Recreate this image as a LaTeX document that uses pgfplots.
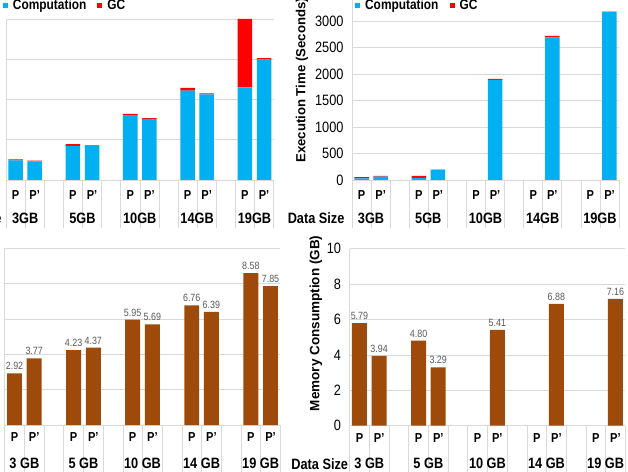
\documentclass[border=0pt]{standalone}
\usepackage{fontspec}
\setmainfont{Liberation Sans}[FakeStretch=0.85]
\newfontfamily\rotfont{Liberation Sans}
\usepackage{pgfplots}
\pgfplotsset{compat=1.18}
\usepackage{pgfplotstable}
\definecolor{compblue}{HTML}{00B0F0}
\definecolor{gcred}{HTML}{FF0000}
\definecolor{membrown}{HTML}{9E4A0B}
\definecolor{gridgray}{HTML}{D9D9D9}
\definecolor{lblgray}{HTML}{595959}

\pgfplotstableread{
x comp gc
0 49 2.5
1 46.5 1.5
3 85 4
4 85 1
6 160 4
7 152 2
9 222 7
10 213 2
12 230 170
13 300 2.5
}\tlData

\pgfplotstableread{
x comp gc
0 30 25
1 65 12
3 40 38
4 185 10
7 1890 20
10 2692 25
13 3165 12
}\trData

\pgfplotstableread{
x mem
0 2.92
1 3.77
3 4.23
4 4.37
6 5.95
7 5.69
9 6.76
10 6.39
12 8.58
13 7.85
}\blData

\pgfplotstableread{
x mem
0 5.79
1 3.94
3 4.80
4 3.29
7 5.41
10 6.88
13 7.16
}\brData

\pgfplotsset{
  sqlegend/.style={legend image code/.code={\fill[##1] (0pt,-2.5pt) rectangle (5pt,2.5pt);}},
  panel/.style n args={3}{
    scale only axis, anchor=south west,
    xmin=-0.5, xmax=13.5, ymin=0,
    axis x line*=bottom, axis y line*=left,
    axis line style={draw=gridgray,-, line width=0.6pt},
    ymajorgrids, grid style={draw=gridgray, line width=0.6pt},
    major tick length=0pt,
    xtick={0,1,3,4,6,7,9,10,12,13},
    xticklabels={P,P',P,P',P,P',P,P',P,P'},
    minor xtick={-0.5,0.5,...,13.5},
    minor tick length=#1, tick align=outside,
    every minor tick/.append style={draw=gridgray, line width=0.6pt},
    xticklabel style={font=\bfseries\fontsize{13}{13}\selectfont, anchor=center, yshift=-#2},
    yticklabel style={font=\fontsize{15}{15}\selectfont, xshift=-5pt},
    /pgf/number format/assume math mode=true,
    /pgf/number format/1000 sep={},
    extra x ticks={0.5,3.5,6.5,9.5,12.5},
    extra x tick style={grid=none, major tick length=0pt,
      xticklabel style={font=\bfseries\fontsize{15}{15}\selectfont, yshift=-#3}},
    clip=false,
    bar width=0.76,
  },
  toplegend/.style 2 args={
    legend style={draw=none, fill=none, at={(#1,#2)}, anchor=west,
      legend columns=2, font=\bfseries\fontsize{14}{14}\selectfont, inner sep=0pt,
      /tikz/every odd column/.append style={column sep=3pt},
      /tikz/every even column/.append style={column sep=9pt}},
  },
}

\begin{document}
\begin{tikzpicture}
\useasboundingbox (0,0) rectangle (628pt,471pt);
\clip (0,0) rectangle (628pt,471pt);

% ---------- top left ----------
\begin{axis}[panel={48pt}{15pt}{23pt},
  at={(6pt,291pt)}, width=267.6pt, height=161pt,
  ymax=400, ytick={0,100,...,400}, yticklabels={},
  ybar stacked,
  extra x tick labels={3GB,5GB,10GB,14GB,19GB},
  toplegend={-0.012}{1.085}]
\addplot[fill=compblue, draw=none, sqlegend] table[x=x,y=comp]{\tlData};
\addplot[fill=gcred, draw=none, sqlegend] table[x=x,y=gc]{\tlData};
\legend{Computation,GC}
\node[anchor=east, font=\bfseries\fontsize{15}{15}\selectfont] at (rel axis cs:0,0) [xshift=-1pt, yshift=-38pt] {Data Size};
\end{axis}

% ---------- top right ----------
\begin{axis}[panel={48pt}{15pt}{23pt},
  at={(352pt,291pt)}, width=267pt, height=185.5pt,
  ymax=3500, ytick={0,500,...,3000},
  ybar stacked,
  extra x tick labels={3GB,5GB,10GB,14GB,19GB},
  toplegend={0.011}{0.941}]
\addplot[fill=compblue, draw=none, sqlegend] table[x=x,y=comp]{\trData};
\addplot[fill=gcred, draw=none, sqlegend] table[x=x,y=gc]{\trData};
\legend{Computation,GC}
\node[anchor=east, font=\bfseries\fontsize{15}{15}\selectfont] at (rel axis cs:0,0) [xshift=-4pt, yshift=-38pt] {Data Size};
\node[rotate=90, font=\rotfont\bfseries\fontsize{13.2}{13.2}\selectfont] at (rel axis cs:-0.187,0.537) {Execution Time (Seconds)};
\end{axis}

% ---------- bottom left ----------
\begin{axis}[panel={50pt}{12pt}{26pt},
  at={(4.65pt,46pt)}, width=275.7pt, height=177pt,
  ymax=10, ytick={0,2,...,10}, yticklabels={},
  ybar,
  extra x tick labels={3 GB,5 GB,10 GB,14 GB,19 GB},
  nodes near coords,
  nodes near coords style={font=\fontsize{10.5}{10.5}\selectfont, text=lblgray,
    /pgf/number format/.cd, fixed, fixed zerofill, precision=2, assume math mode=true}]
\addplot[fill=membrown, draw=none] table[x=x,y=mem]{\blData};
\end{axis}

% ---------- bottom right ----------
\begin{axis}[panel={50pt}{12pt}{26pt},
  at={(349.6pt,45.3pt)}, width=275.7pt, height=177pt,
  ymax=10, ytick={0,2,...,10},
  ybar,
  extra x tick labels={3 GB,5 GB,10 GB,14 GB,19 GB},
  nodes near coords,
  nodes near coords style={font=\fontsize{10.5}{10.5}\selectfont, text=lblgray,
    /pgf/number format/.cd, fixed, fixed zerofill, precision=2, assume math mode=true}]
\addplot[fill=membrown, draw=none] table[x=x,y=mem]{\brData};
\node[anchor=east, font=\bfseries\fontsize{15}{15}\selectfont] at (rel axis cs:0,0) [xshift=2pt, yshift=-38pt] {Data Size};
\node[rotate=90, font=\rotfont\bfseries\fontsize{13.5}{13.5}\selectfont] at (rel axis cs:-0.122,0.578) {Memory Consumption (GB)};
\end{axis}
\end{tikzpicture}
\end{document}
